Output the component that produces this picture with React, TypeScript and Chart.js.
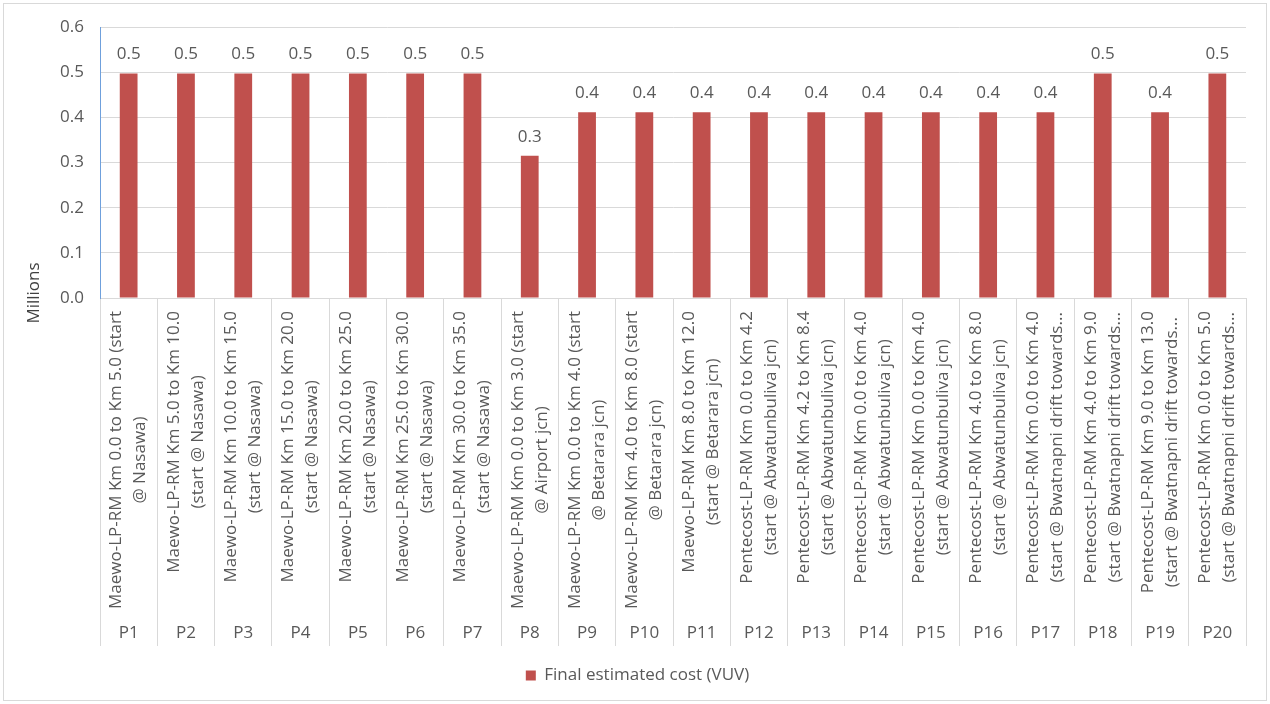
import React, { useEffect, useRef } from "react";
import { Chart, registerables } from "chart.js";

Chart.register(...registerables);

const codes: string[] = [
  "P1", "P2", "P3", "P4", "P5", "P6", "P7", "P8", "P9", "P10",
  "P11", "P12", "P13", "P14", "P15", "P16", "P17", "P18", "P19", "P20",
];

const sections: string[][] = [
  ["Maewo-LP-RM Km 0.0 to Km 5.0 (start", "@ Nasawa)"],
  ["Maewo-LP-RM Km 5.0 to Km 10.0", "(start @ Nasawa)"],
  ["Maewo-LP-RM Km 10.0 to Km 15.0", "(start @ Nasawa)"],
  ["Maewo-LP-RM Km 15.0 to Km 20.0", "(start @ Nasawa)"],
  ["Maewo-LP-RM Km 20.0 to Km 25.0", "(start @ Nasawa)"],
  ["Maewo-LP-RM Km 25.0 to Km 30.0", "(start @ Nasawa)"],
  ["Maewo-LP-RM Km 30.0 to Km 35.0", "(start @ Nasawa)"],
  ["Maewo-LP-RM Km 0.0 to Km 3.0 (start", "@ Airport jcn)"],
  ["Maewo-LP-RM Km 0.0 to Km 4.0 (start", "@ Betarara jcn)"],
  ["Maewo-LP-RM Km 4.0 to Km 8.0 (start", "@ Betarara jcn)"],
  ["Maewo-LP-RM Km 8.0 to Km 12.0", "(start @ Betarara jcn)"],
  ["Pentecost-LP-RM Km 0.0 to Km 4.2", "(start @ Abwatunbuliva jcn)"],
  ["Pentecost-LP-RM Km 4.2 to Km 8.4", "(start @ Abwatunbuliva jcn)"],
  ["Pentecost-LP-RM Km 0.0 to Km 4.0", "(start @ Abwatunbuliva jcn)"],
  ["Pentecost-LP-RM Km 0.0 to Km 4.0", "(start @ Abwatunbuliva jcn)"],
  ["Pentecost-LP-RM Km 4.0 to Km 8.0", "(start @ Abwatunbuliva jcn)"],
  ["Pentecost-LP-RM Km 0.0 to Km 4.0", "(start @ Bwatnapni drift towards..."],
  ["Pentecost-LP-RM Km 4.0 to Km 9.0", "(start @ Bwatnapni drift towards..."],
  ["Pentecost-LP-RM Km 9.0 to Km 13.0", "(start @ Bwatnapni drift towards..."],
  ["Pentecost-LP-RM Km 0.0 to Km 5.0", "(start @ Bwatnapni drift towards..."],
];

// Final estimated cost, in millions of VUV
const costMillions: number[] = [
  0.497, 0.497, 0.497, 0.497, 0.497, 0.497, 0.497, 0.315, 0.411, 0.411,
  0.411, 0.411, 0.411, 0.411, 0.411, 0.411, 0.411, 0.497, 0.411, 0.497,
];

const seriesName = "Final estimated cost (VUV)";
const unitLabel = "Millions";
const yMin = 0;
const yMax = 0.6;
const yStep = 0.1;

const FONT = "'Open Sans', 'Noto Sans', sans-serif";
const FS = 17;
const TEXT = "#595959";
const GRID = "#d9d9d9";
const BAR = "#C0504D";

const decorPlugin = {
  id: "decor",
  beforeDraw(chart: any) {
    const { ctx, width, height } = chart;
    ctx.save();
    ctx.fillStyle = "#ffffff";
    ctx.fillRect(0, 0, width, height);
    ctx.strokeStyle = GRID;
    ctx.lineWidth = 1;
    ctx.strokeRect(3.5, 3.5, width - 7, height - 7);
    ctx.restore();
  },
  afterDatasetsDraw(chart: any) {
    const { ctx, chartArea } = chart;
    const meta = chart.getDatasetMeta(0);
    ctx.save();
    // data labels
    ctx.font = `${FS}px ${FONT}`;
    ctx.fillStyle = TEXT;
    ctx.textAlign = "center";
    ctx.textBaseline = "middle";
    meta.data.forEach((bar: any, i: number) => {
      ctx.fillText(costMillions[i].toFixed(1), bar.x, bar.y - 19);
    });
    // rotated section labels (outer level of the category axis)
    const xs = chart.scales.x;
    sections.forEach((lines, i) => {
      const cx = xs.getPixelForValue(i);
      const w = Math.max(...lines.map((l) => ctx.measureText(l).width));
      const cy = xs.top + 13 + w / 2;
      lines.forEach((l, j) => {
        const lx = cx + (j - (lines.length - 1) / 2) * 24;
        ctx.save();
        ctx.translate(lx, cy);
        ctx.rotate(-Math.PI / 2);
        ctx.fillText(l, 0, 0);
        ctx.restore();
      });
    });
    // display unit label
    ctx.fillStyle = "#404040";
    ctx.save();
    ctx.translate(34, chartArea.bottom - 5);
    ctx.rotate(-Math.PI / 2);
    ctx.fillText(unitLabel, 0, 0);
    ctx.restore();
    ctx.restore();
  },
};

export default function App() {
  const ref = useRef<HTMLCanvasElement | null>(null);

  useEffect(() => {
    let chart: Chart | null = null;
    let cancelled = false;
    const make = () => {
      if (cancelled || !ref.current) return;
      chart = new Chart(ref.current, {
        type: "bar",
        data: {
          labels: codes,
          datasets: [
            {
              label: seriesName,
              data: costMillions,
              backgroundColor: BAR,
              borderWidth: 0,
              barPercentage: 0.31,
              categoryPercentage: 1,
            },
          ],
        },
        options: {
          animation: false,
          responsive: false,
          devicePixelRatio: 1,
          layout: { padding: { left: 29, right: 24, top: 27, bottom: 10 } },
          plugins: {
            tooltip: { enabled: false },
            title: { display: false },
            legend: {
              position: "bottom",
              labels: {
                boxWidth: 10,
                boxHeight: 10,
                padding: 21,
                color: TEXT,
                font: { family: FONT, size: FS },
              },
            },
          },
          scales: {
            x: {
              offset: true,
              grid: {
                offset: true,
                drawOnChartArea: false,
                drawTicks: true,
                tickLength: 348,
                color: GRID,
              },
              border: { color: GRID },
              ticks: {
                padding: -23,
                autoSkip: false,
                maxRotation: 0,
                minRotation: 0,
                color: TEXT,
                font: { family: FONT, size: FS },
              },
              afterFit: (s: any) => {
                s.height = 348;
              },
            },
            y: {
              min: yMin,
              max: yMax,
              ticks: {
                stepSize: yStep,
                padding: 16,
                color: TEXT,
                font: { family: FONT, size: FS },
                callback: (v: any) => Number(v).toFixed(1),
              },
              grid: { color: GRID, drawTicks: false },
              border: { color: "#6fa0dc" },
              afterFit: (s: any) => {
                s.width = 71;
              },
            },
          },
        },
        plugins: [decorPlugin],
      });
    };
    if ((document as any).fonts && (document as any).fonts.load) {
      (document as any).fonts
        .load(`${FS}px ${FONT}`)
        .then(make, make);
    } else {
      make();
    }
    return () => {
      cancelled = true;
      if (chart) chart.destroy();
    };
  }, []);

  return (
    <div style={{ position: "fixed", left: 0, top: 0, width: 1270, height: 704 }}>
      <canvas ref={ref} width={1270} height={704} style={{ display: "block" }} />
    </div>
  );
}
